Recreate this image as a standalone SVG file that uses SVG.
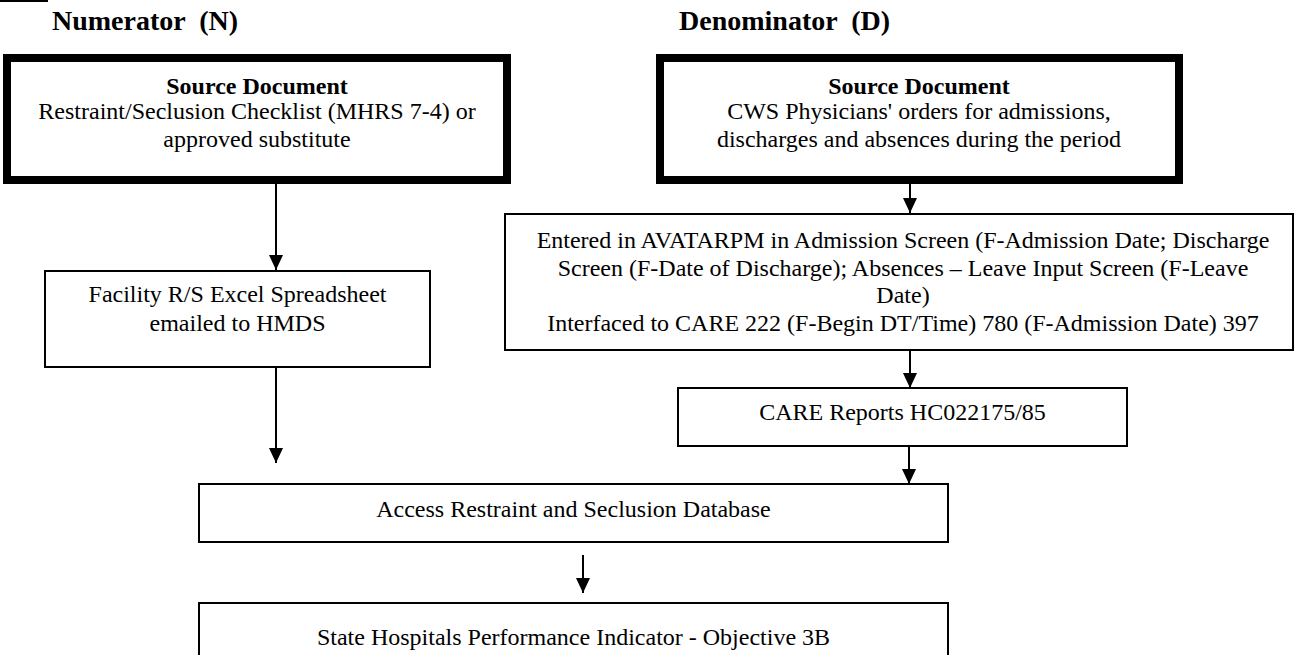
<svg xmlns="http://www.w3.org/2000/svg" width="1298" height="655" viewBox="0 0 1298 655">
  <defs>
    <!-- filled arrowhead; tip sits at the end of the line -->
    <marker id="arrow" markerUnits="userSpaceOnUse" markerWidth="16" markerHeight="16" viewBox="0 0 16 16" refX="15" refY="8" orient="auto">
      <path d="M0,1 L15,8 L0,15 Z" fill="#000"/>
    </marker>
    <style>
      .txt { font-family: "Liberation Serif", "Times New Roman", serif; font-size: 24px; fill: #000; text-anchor: middle; }
      .bold { font-weight: bold; }
      .title { font-family: "Liberation Serif", "Times New Roman", serif; font-size: 28px; font-weight: bold; fill: #000; }
      .thick { fill: #fff; stroke: #000; stroke-width: 8; }
      .box { fill: #fff; stroke: #000; stroke-width: 2; }
      .conn { stroke: #000; stroke-width: 2; fill: none; }
    </style>
  </defs>
  <rect width="1298" height="655" fill="#fff"/>

  <!-- column headings -->
  <g id="headings">
    <line x1="0" y1="1" x2="48" y2="1" stroke="#000" stroke-width="2"/>
    <text class="title" x="52" y="30" xml:space="preserve">Numerator  (N)</text>
    <text class="title" x="679" y="30" xml:space="preserve">Denominator  (D)</text>
  </g>

  <!-- connectors -->
  <g id="connectors">
    <line class="conn" x1="276" y1="184" x2="276" y2="270" marker-end="url(#arrow)"/>
    <line class="conn" x1="276" y1="367" x2="276" y2="463" marker-end="url(#arrow)"/>
    <line class="conn" x1="910" y1="184" x2="910" y2="213" marker-end="url(#arrow)"/>
    <line class="conn" x1="910" y1="350" x2="910" y2="388" marker-end="url(#arrow)"/>
    <line class="conn" x1="909" y1="446" x2="909" y2="484" marker-end="url(#arrow)"/>
    <line class="conn" x1="583" y1="555" x2="583" y2="593" marker-end="url(#arrow)"/>
  </g>

  <g id="num-source">
    <rect class="thick" x="7" y="58" width="500" height="122"/>
    <text class="txt bold" x="257" y="94">Source Document</text>
    <text class="txt" x="257" y="119">Restraint/Seclusion Checklist (MHRS 7-4) or</text>
    <text class="txt" x="257" y="147">approved substitute</text>
  </g>

  <g id="den-source">
    <rect class="thick" x="660" y="58" width="519" height="122"/>
    <text class="txt bold" x="919" y="94">Source Document</text>
    <text class="txt" x="919" y="119">CWS Physicians' orders for admissions,</text>
    <text class="txt" x="919" y="147">discharges and absences during the period</text>
  </g>

  <g id="facility">
    <rect class="box" x="45" y="271" width="385" height="96"/>
    <text class="txt" x="237.5" y="302">Facility R/S Excel Spreadsheet</text>
    <text class="txt" x="237.5" y="331">emailed to HMDS</text>
  </g>

  <g id="avatar">
    <rect class="box" x="505" y="214" width="788" height="136"/>
    <text class="txt" x="903" y="248">Entered in AVATARPM in Admission Screen (F-Admission Date; Discharge</text>
    <text class="txt" x="903" y="276">Screen (F-Date of Discharge); Absences – Leave Input Screen (F-Leave</text>
    <text class="txt" x="903" y="303">Date)</text>
    <text class="txt" x="903" y="331">Interfaced to CARE 222 (F-Begin DT/Time) 780 (F-Admission Date) 397</text>
  </g>

  <g id="care-reports">
    <rect class="box" x="678" y="388" width="449" height="58"/>
    <text class="txt" x="902.5" y="420">CARE Reports HC022175/85</text>
  </g>

  <g id="access-db">
    <rect class="box" x="199" y="484" width="749" height="58"/>
    <text class="txt" x="573.5" y="517">Access Restraint and Seclusion Database</text>
  </g>

  <g id="indicator">
    <rect class="box" x="199" y="603" width="749" height="70"/>
    <text class="txt" x="573.5" y="645">State Hospitals Performance Indicator - Objective 3B</text>
  </g>
</svg>
